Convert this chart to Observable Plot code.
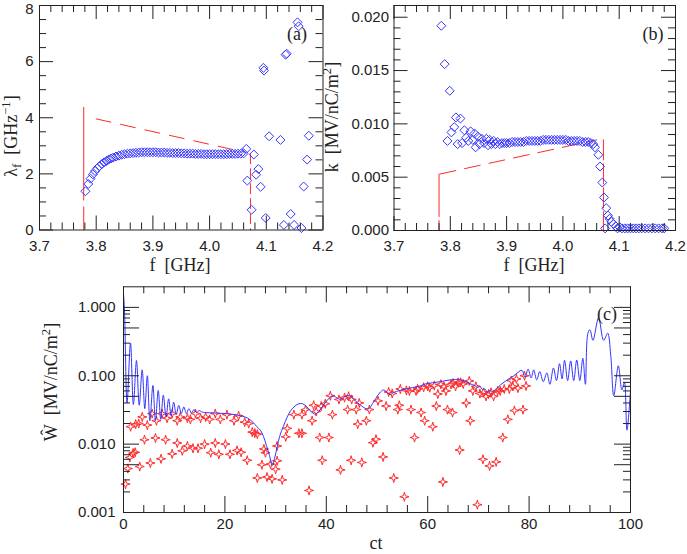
<!DOCTYPE html>
<html><head><meta charset="utf-8">
<script src="https://cdn.jsdelivr.net/npm/d3@7"></script>
<script src="https://cdn.jsdelivr.net/npm/@observablehq/plot@0.6"></script>
<style>
body{margin:0;background:#fff;}
#wrap{position:relative;width:687px;height:554px;overflow:hidden;}
#wrap svg{position:absolute;left:0;}
</style></head><body><div id="wrap"></div>
<script>
// ---------- Panel (a): lambda_f vs f ----------
const lamBand = [[3.781,1.38],[3.786,1.64],[3.790,1.83],[3.794,1.98],[3.798,2.10],[3.802,2.20],[3.806,2.28],[3.810,2.35],[3.814,2.41],[3.818,2.46],[3.822,2.51],[3.826,2.55],[3.830,2.58],[3.835,2.62],[3.840,2.65],[3.845,2.68],[3.850,2.70],[3.855,2.72],[3.860,2.73],[3.865,2.74],[3.870,2.75],[3.875,2.76],[3.880,2.77],[3.885,2.77],[3.890,2.77],[3.895,2.77],[3.900,2.77],[3.905,2.77],[3.910,2.76],[3.915,2.76],[3.920,2.76],[3.925,2.75],[3.930,2.75],[3.935,2.74],[3.940,2.74],[3.945,2.74],[3.950,2.73],[3.955,2.73],[3.960,2.72],[3.965,2.72],[3.970,2.72],[3.975,2.71],[3.980,2.71],[3.985,2.71],[3.990,2.70],[3.995,2.70],[4.000,2.70],[4.005,2.70],[4.010,2.70],[4.015,2.70],[4.020,2.70],[4.025,2.70],[4.030,2.70],[4.035,2.71],[4.040,2.71],[4.045,2.71],[4.050,2.72],[4.055,2.72],[4.060,2.73]];
const lamScatter = [[4.0647,2.89],[4.0665,1.76],[4.074,0.72],[4.078,2.69],[4.082,1.97],[4.086,2.17],[4.090,1.54],[4.095,5.78],[4.096,5.68],[4.099,0.43],[4.105,3.34],[4.125,3.21],[4.131,0.18],[4.134,6.25],[4.136,6.28],[4.143,0.57],[4.149,0.18],[4.155,7.40],[4.157,7.26],[4.162,0.07],[4.166,1.55],[4.172,2.51],[4.175,3.36]];
const lamDashLeft = [[3.778,0],[3.778,4.37]];
const lamDashSlope = [[3.800,3.96],[4.060,2.78]];
const lamDashRight = [[4.072,2.72],[4.072,0]];

// ---------- Panel (b): k vs f ----------
const kPoints = [[3.784,0.0192],[3.790,0.0156],[3.795,0.0084],[3.799,0.0131],[3.802,0.0092],[3.807,0.0097],[3.810,0.0106],[3.813,0.0081],[3.818,0.0105],[3.821,0.0082],[3.825,0.0094],[3.828,0.0087],[3.832,0.0084],[3.836,0.0093],[3.840,0.0085],[3.843,0.0091],[3.845,0.0078],[3.849,0.0088],[3.852,0.0081],[3.856,0.0086],[3.860,0.0082],[3.864,0.0086],[3.867,0.0080],[3.870,0.0085],[3.873,0.0081],[3.877,0.0084],[3.880,0.0081],[3.884,0.0083],[3.888,0.0081],[3.892,0.0082],[3.896,0.0082],[3.900,0.0082],[3.905,0.0082],[3.910,0.0083],[3.915,0.0083],[3.920,0.0083],[3.925,0.0083],[3.930,0.0083],[3.935,0.0084],[3.940,0.0084],[3.945,0.0084],[3.950,0.0084],[3.955,0.0084],[3.960,0.0084],[3.965,0.0085],[3.970,0.0085],[3.975,0.0085],[3.980,0.0085],[3.985,0.0085],[3.990,0.0085],[3.995,0.0085],[4.000,0.0085],[4.005,0.0085],[4.010,0.0084],[4.015,0.0084],[4.020,0.0084],[4.025,0.0084],[4.030,0.0084],[4.035,0.0083],[4.040,0.0083],[4.045,0.0083],[4.050,0.0082],[4.054,0.0081],[4.057,0.0078],[4.063,0.0071],[4.066,0.0060],[4.070,0.0045],[4.073,0.0031],[4.075,0.0002],[4.077,0.0021],[4.080,0.0014],[4.083,0.0011],[4.086,0.0008],[4.090,0.0006],[4.094,0.0004],[4.097,0.0002],[4.101,0.0003],[4.105,0.0002],[4.110,0.0002],[4.115,0.0002],[4.120,0.0002],[4.125,0.0002],[4.130,0.0002],[4.135,0.0002],[4.140,0.0002],[4.146,0.0002],[4.152,0.0002],[4.158,0.0002],[4.164,0.0002],[4.170,0.0002],[4.176,0.0002],[4.180,0.0002]];
const kDashLeft = [[3.780,0],[3.780,0.0053]];
const kDashSlope = [[3.782,0.0053],[4.060,0.0085]];
const kDashRight = [[4.072,0.0085],[4.072,0]];

// ---------- Panel (c): wake W vs ct ----------
const wLine = [[0,1.6],[0.2,0.9],[0.7,0.04],[1.38,0.30],[1.95,0.038],[2.56,0.167],[3.1,0.037],[3.68,0.122],[4.2,0.033],[4.7,0.10],[5.2,0.022],[5.8,0.072],[6.3,0.022],[6.85,0.061],[7.35,0.023],[7.85,0.052],[8.4,0.025],[8.9,0.046],[9.4,0.026],[9.9,0.041],[10.4,0.027],[10.9,0.037],[11.4,0.028],[11.9,0.035],[12.4,0.028],[12.9,0.033],[13.4,0.0285],[13.9,0.032],[14.4,0.029],[14.9,0.031],[15.5,0.0295],[16,0.029],[18,0.0285],[20,0.028],[22,0.027],[23.5,0.0255],[24.5,0.024],[25.5,0.021],[26.3,0.018],[27,0.016],[27.6,0.013],[28.2,0.0095],[28.8,0.0068],[29.3,0.0049],[29.8,0.0062],[30.3,0.009],[30.8,0.013],[31.5,0.018],[32.3,0.025],[33,0.031],[33.8,0.036],[34.6,0.039],[35.3,0.039],[36,0.036],[36.8,0.031],[37.5,0.028],[37.9,0.0275],[38.5,0.03],[39.3,0.036],[40.2,0.044],[41.2,0.051],[42,0.048],[42.8,0.045],[43.6,0.049],[44.5,0.051],[45.3,0.046],[46.2,0.04],[47,0.036],[47.8,0.033],[48.4,0.033],[49.1,0.039],[49.8,0.047],[50.5,0.056],[51.3,0.062],[52,0.057],[52.6,0.053],[53.3,0.057],[54.5,0.061],[55.6,0.064],[57,0.067],[58.5,0.071],[59.6,0.076],[61,0.079],[62.5,0.082],[64,0.086],[65.5,0.088],[66.5,0.087],[67.5,0.082],[68.4,0.076],[69.3,0.072],[69.8,0.068],[70.3,0.07],[70.8,0.063],[71.3,0.064],[71.7,0.058],[72.2,0.061],[72.7,0.057],[73.2,0.062],[73.6,0.065],[74.4,0.074],[75.3,0.083],[76.2,0.092],[77,0.10],[77.8,0.112],[78.6,0.12],[79.2,0.095],[79.8,0.125],[80.4,0.093],[80.9,0.122],[81.5,0.087],[82.1,0.115],[82.8,0.082],[83.5,0.11],[84.1,0.075],[84.8,0.13],[85.4,0.085],[86.0,0.15],[86.5,0.09],[87.0,0.168],[87.6,0.085],[88.2,0.165],[88.8,0.085],[89.4,0.17],[90.0,0.085],[90.6,0.18],[91.1,0.075],[91.6,0.42],[92.0,0.47],[92.6,0.33],[93.7,0.70],[94.7,0.33],[95.5,0.42],[96.1,0.2],[96.7,0.051],[97.6,0.14],[98.3,0.062],[98.8,0.08],[99.3,0.016],[100,0.06]];
const wStars = [[0.4,0.0026],[0.85,0.0044],[1.25,0.0064],[1.9,0.0074],[2.3,0.0076],[3.2,0.0047],[5.3,0.0053],[7.4,0.0061],[9.6,0.0072],[11.6,0.008],
[1.4,0.018],[2.4,0.0196],[3.0,0.020],[3.7,0.025],[4.7,0.019],[5.65,0.028],[6.5,0.022],[7.6,0.028],[8.6,0.024],[9.6,0.028],[10.6,0.022],[11.2,0.025],[12.6,0.024],[13.2,0.023],[14.2,0.028],[15.2,0.024],[16.2,0.025],[17.0,0.023],[18.1,0.028],[19.1,0.023],[20.4,0.027],[21.8,0.022],[22.7,0.026],[23.9,0.021],[24.7,0.020],[25.4,0.015],[25.9,0.0145],[26.4,0.014],[27.7,0.0085],[28.0,0.0075],
[4.14,0.0116],[6.3,0.0123],[8.3,0.0116],[10.6,0.0104],[12.6,0.0094],[13.7,0.0087],[14.7,0.0087],[16.0,0.010],[17.2,0.0075],[18.1,0.0104],[18.8,0.0071],[20.1,0.010],[21.0,0.0071],[22.4,0.0081],[23.2,0.0076],[24.4,0.0058],
[26.4,0.0032],[27.3,0.005],[28.3,0.0033],[29.0,0.0051],[29.3,0.0031],[30.0,0.0043],[30.3,0.0057],[31.3,0.003],[30.3,0.0094],[32.0,0.0128],[32.3,0.017],
[33.6,0.027],[34.6,0.0144],[35.2,0.0144],[35.2,0.027],[35.9,0.032],[36.6,0.0021],[37.2,0.022],[37.5,0.037],[38.0,0.03],[38.7,0.0125],[39.2,0.0058],[39.0,0.036],[39.8,0.039],[40.5,0.0125],[41.2,0.027],[40.8,0.051],[42.8,0.0042],[43.6,0.048],[44.2,0.032],[44.4,0.05],[44.9,0.0058],[45.9,0.032],[46.2,0.0196],[42.5,0.045],[45.0,0.045],[46.5,0.04],
[47.0,0.0054],[47.9,0.022],[48.5,0.032],[49.2,0.0105],[49.8,0.0118],[50.2,0.043],[51.2,0.0065],[51.8,0.036],[52.3,0.058],[53.3,0.0032],[54.1,0.032],[54.4,0.037],[54.6,0.064],[55.4,0.0017],[56.4,0.06],[56.7,0.032],[57.4,0.0125],[57.7,0.06],[58.7,0.029],[59.2,0.068],[59.4,0.022],[60.4,0.067],[61.0,0.018],[61.7,0.036],[62.0,0.054],[63.0,0.0028],[63.6,0.06],[63.9,0.032],[64.6,0.075],[64.9,0.029],[65.5,0.07],[66.3,0.0082],[66.5,0.08],[67.6,0.04],[68.2,0.084],[68.4,0.022],[68.9,0.06],[69.8,0.0013],[70.3,0.055],[70.9,0.006],[71.5,0.05],[72.2,0.0048],[72.5,0.057],[73.5,0.0055],[73.8,0.06],[74.8,0.0125],[75.1,0.064],[75.8,0.023],[76.1,0.064],[76.5,0.085],[77.1,0.031],[77.5,0.09],[77.8,0.066],[78.8,0.032],[79.1,0.10],[79.4,0.071],
[53.0,0.055],[55.8,0.061],[58.0,0.064],[60.0,0.07],[61.3,0.072],[62.6,0.075],[63.2,0.07],[65.0,0.078],[66.0,0.08],[67.0,0.076],[69.5,0.07],[71.0,0.057],[72.0,0.054],[73.0,0.05],[74.3,0.06],[76.8,0.07]];

// ---------- tick values ----------
const fMajor = [3.7,3.8,3.9,4.0,4.1,4.2];
const fMinor = d3.range(3.72,4.2,0.02).filter(v => Math.abs(v*10 - Math.round(v*10)) > 1e-6);
const lamMajor = [0,2,4,6,8];
const lamMinor = d3.range(0.5,8,0.5).filter(v => v % 2 !== 0);
const kMajor = [0,0.005,0.010,0.015,0.020];
const kMinor = d3.range(0.001,0.021,0.001).filter(v => Math.abs(v/0.005 - Math.round(v/0.005)) > 1e-6);
const ctMajor = [0,20,40,60,80,100];
const ctMinor = d3.range(4,100,4).filter(v => v % 20 !== 0);
const wMajor = [0.001,0.005,0.01,0.05,0.1,0.5,1];
const wMinor = [0.002,0.003,0.004,0.006,0.007,0.008,0.009,0.02,0.03,0.04,0.06,0.07,0.08,0.09,0.2,0.3,0.4,0.6,0.7,0.8,0.9];

const BLUE = "#3535ff", RED = "#ff2a2a", INK = "#222";
const TICKFONT = 15;
const diamond = {draw(ctx, size){const r = Math.sqrt(size/Math.PI)*1.12; ctx.moveTo(0,-r); ctx.lineTo(r,0); ctx.lineTo(0,r); ctx.lineTo(-r,0); ctx.closePath();}};
const star4 = {draw(ctx, size){const r = Math.sqrt(size/Math.PI)*1.15, q = r*0.22; ctx.moveTo(0,-r); ctx.lineTo(q,-q); ctx.lineTo(r,0); ctx.lineTo(q,q); ctx.lineTo(0,r); ctx.lineTo(-q,q); ctx.lineTo(-r,0); ctx.lineTo(-q,-q); ctx.closePath();}};

function frameTicks(xMaj, xMin, yMaj, yMin, iw, ih, L=14, S=7) {
  const o = {stroke: INK, strokeWidth: 1};
  return [
    Plot.tickX(xMaj, {x: d=>d, insetTop: ih-L, ...o}),
    Plot.tickX(xMaj, {x: d=>d, insetBottom: ih-L, ...o}),
    Plot.tickX(xMin, {x: d=>d, insetTop: ih-S, ...o}),
    Plot.tickX(xMin, {x: d=>d, insetBottom: ih-S, ...o}),
    Plot.tickY(yMaj, {y: d=>d, insetRight: iw-L, ...o}),
    Plot.tickY(yMaj, {y: d=>d, insetLeft: iw-L, ...o}),
    Plot.tickY(yMin, {y: d=>d, insetRight: iw-S, ...o}),
    Plot.tickY(yMin, {y: d=>d, insetLeft: iw-S, ...o}),
    Plot.frame({stroke: INK, strokeWidth: 1})
  ];
}
const baseStyle = {background: "transparent", fontFamily: "Liberation Sans", fontSize: TICKFONT+"px", color: INK, overflow: "visible"};
const W = 687, H = 277;

function addText(svg, x, y, rot, parts, size=18, family="Liberation Serif", anchor="middle") {
  const t = d3.select(svg).append("text")
    .attr("transform", `translate(${x},${y}) rotate(${rot})`)
    .attr("text-anchor", anchor).attr("fill", INK)
    .style("font-family", family).style("font-size", size+"px");
  let shift = 0;
  for (const [s, kind] of parts) {
    const target = kind === "sub" ? 4 : kind === "sup" ? -7 : 0;
    const sp = t.append("tspan").text(s).attr("dy", target - shift);
    if (kind) sp.style("font-size", (size*0.7)+"px");
    shift = target;
  }
  return t;
}

// Panel (a)
const mA = {l: 39, r: 364.5, t: 5, b: 47.5};
const plotA = Plot.plot({
  width: W, height: H, marginLeft: mA.l, marginRight: mA.r, marginTop: mA.t, marginBottom: mA.b,
  style: baseStyle,
  x: {domain: [3.7, 4.2]}, y: {domain: [0, 8]},
  marks: [
    Plot.line(lamDashLeft, {x: d=>d[0], y: d=>d[1], stroke: RED, strokeWidth: 1, strokeDasharray: "23,7,200"}),
    Plot.line(lamDashSlope, {x: d=>d[0], y: d=>d[1], stroke: RED, strokeWidth: 1, strokeDasharray: "15,10"}),
    Plot.line(lamDashRight, {x: d=>d[0], y: d=>d[1], stroke: RED, strokeWidth: 1, strokeDasharray: "10,5"}),
    Plot.dot(lamBand.concat(lamScatter), {x: d=>d[0], y: d=>d[1], symbol: diamond, r: 4, stroke: BLUE, strokeWidth: 1, fill: "none"}),
    ...frameTicks(fMajor, fMinor, lamMajor, lamMinor, W-mA.l-mA.r, H-mA.t-mA.b),
    Plot.axisX(fMajor, {tickSize: 0, tickPadding: 10, tickFormat: d3.format(".1f"), fontSize: TICKFONT, label: null}),
    Plot.axisY(lamMajor.slice(0, 4), {tickSize: 0, tickPadding: 6, tickFormat: d3.format("d"), fontSize: TICKFONT, label: null}),
    Plot.axisY(lamMajor.slice(4), {tickSize: 0, tickPadding: 6, tickFormat: d3.format("d"), fontSize: TICKFONT, label: null, dy: 4})
  ]
});
plotA.style.top = "0px";
addText(plotA, 17, 136, -90, [["λ",null],["f","sub"],["  [GHz",null],["−1","sup"],["]",null]]);
addText(plotA, 180, 271, 0, [["f  [GHz]",null]]);
addText(plotA, 297, 40, 0, [["(a)",null]]);

// Panel (b)
const mB = {l: 393.5, r: 12, t: 5, b: 47};
const plotB = Plot.plot({
  width: W, height: H, marginLeft: mB.l, marginRight: mB.r, marginTop: mB.t, marginBottom: mB.b,
  style: baseStyle,
  x: {domain: [3.7, 4.2]}, y: {domain: [0, 0.0211]},
  marks: [
    Plot.line(kDashLeft, {x: d=>d[0], y: d=>d[1], stroke: RED, strokeWidth: 1, strokeDasharray: "10,4,100"}),
    Plot.line(kDashSlope, {x: d=>d[0], y: d=>d[1], stroke: RED, strokeWidth: 1, strokeDasharray: "16,9"}),
    Plot.line(kDashRight, {x: d=>d[0], y: d=>d[1], stroke: RED, strokeWidth: 1, strokeDasharray: "20,4"}),
    Plot.dot(kPoints, {x: d=>d[0], y: d=>d[1], symbol: diamond, r: 4, stroke: BLUE, strokeWidth: 1, fill: "none"}),
    ...frameTicks(fMajor, fMinor, kMajor, kMinor, W-mB.l-mB.r, H-mB.t-mB.b),
    Plot.axisX(fMajor, {tickSize: 0, tickPadding: 10, tickFormat: d3.format(".1f"), fontSize: TICKFONT, label: null}),
    Plot.axisY(kMajor, {tickSize: 0, tickPadding: 5, tickFormat: d3.format(".3f"), fontSize: TICKFONT, label: null})
  ]
});
plotB.style.top = "0px";
addText(plotB, 338, 117, -90, [["k  [MV/nC/m",null],["2","sup"],["]",null]]);
addText(plotB, 534, 271, 0, [["f  [GHz]",null]]);
addText(plotB, 653, 40, 0, [["(b)",null]]);

// Panel (c)
const mC = {l: 123, r: 57, t: 9.3, b: 42};
const plotC = Plot.plot({
  width: W, height: H, marginLeft: mC.l, marginRight: mC.r, marginTop: mC.t, marginBottom: mC.b,
  style: baseStyle,
  x: {domain: [0, 100]}, y: {type: "log", domain: [0.001, 2]},
  marks: [
    Plot.dot(wStars, {x: d=>d[0], y: d=>d[1], symbol: star4, r: 4, stroke: RED, strokeWidth: 1, fill: "none"}),
    Plot.line(wLine, {x: d=>d[0], y: d=>d[1], stroke: BLUE, strokeWidth: 1, curve: "catmull-rom"}),
    ...frameTicks(ctMajor, ctMinor, wMajor, wMinor, W-mC.l-mC.r, H-mC.t-mC.b, 16, 7),
    Plot.axisX(ctMajor, {tickSize: 0, tickPadding: 6, tickFormat: d3.format("d"), fontSize: TICKFONT, label: null}),
    Plot.axisY(wMajor, {tickSize: 0, tickPadding: 8, tickFormat: d3.format(".3f"), fontSize: TICKFONT, label: null})
  ]
});
plotC.style.top = "277px";
addText(plotC, 57, 105, -90, [["Ŵ  [MV/nC/m",null],["2","sup"],["]",null]]);
addText(plotC, 376, 272, 0, [["ct",null]]);
addText(plotC, 607, 43, 0, [["(c)",null]]);

const wrap = document.getElementById("wrap");
wrap.append(plotA, plotB, plotC);
</script>
</body></html>
